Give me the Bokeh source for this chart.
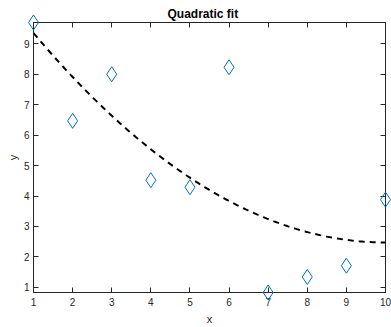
import numpy as np
from bokeh.plotting import figure
from bokeh.models import LinearAxis, Range1d, FixedTicker, ColumnDataSource, Title
from bokeh.embed import file_html
from bokeh.resources import INLINE

x_vals = [1, 2, 3, 4, 5, 6, 7, 8, 9, 10]
y_vals = [9.70, 6.47, 8.00, 4.52, 4.29, 8.23, 0.83, 1.34, 1.71, 3.88]
x_ticks = [1, 2, 3, 4, 5, 6, 7, 8, 9, 10]
y_ticks = [1, 2, 3, 4, 5, 6, 7, 8, 9]

coef = np.polyfit(x_vals, y_vals, 2)
xf = np.linspace(min(x_vals), max(x_vals), 200)
yf = np.polyval(coef, xf)

FONT = "Liberation Sans"
AX = "#262626"

p = figure(width=391, height=327, output_backend="svg", toolbar_location=None,
           x_range=Range1d(min(x_vals), max(x_vals)),
           y_range=Range1d(min(y_vals), max(y_vals)),
           min_border_left=33, min_border_right=6, min_border_top=22, min_border_bottom=31)
p.background_fill_color = "white"
p.border_fill_color = "white"
p.outline_line_color = AX
p.outline_line_width = 1
p.grid.visible = False

p.title = Title(text="Quadratic fit", align="left", offset=134,
                text_font=FONT, text_font_size="12px", text_font_style="bold",
                text_color="black", standoff=4)

for ax in (p.xaxis[0], p.yaxis[0]):
    ax.major_tick_in = 5
    ax.major_tick_out = 0
    ax.minor_tick_line_color = None
    ax.axis_line_color = AX
    ax.major_tick_line_color = AX
    ax.major_label_text_color = AX
    ax.major_label_text_font = FONT
    ax.major_label_text_font_size = "10px"
    ax.axis_label_text_font = FONT
    ax.axis_label_text_font_size = "11px"
    ax.axis_label_text_font_style = "normal"
    ax.axis_label_text_color = AX

p.xaxis[0].ticker = FixedTicker(ticks=x_ticks)
p.yaxis[0].ticker = FixedTicker(ticks=y_ticks)
p.xaxis[0].axis_label = "x"
p.yaxis[0].axis_label = "y"
p.xaxis[0].major_label_standoff = 5
p.xaxis[0].axis_label_standoff = 4
p.yaxis[0].major_label_standoff = 4
p.yaxis[0].axis_label_standoff = 2

top = LinearAxis(ticker=FixedTicker(ticks=x_ticks))
right = LinearAxis(ticker=FixedTicker(ticks=y_ticks))
for ax in (top, right):
    ax.major_tick_in = 5
    ax.major_tick_out = 0
    ax.minor_tick_line_color = None
    ax.axis_line_color = AX
    ax.major_tick_line_color = AX
    ax.major_label_text_font_size = "0px"
    ax.major_label_text_color = None
    ax.major_label_standoff = 0
p.add_layout(top, "above")
p.add_layout(right, "right")

fit_src = ColumnDataSource(dict(x=xf, y=yf))
p.line("x", "y", source=fit_src, line_color="black", line_width=2, line_dash="6 5")

src = ColumnDataSource(dict(x=x_vals, y=y_vals))
r = p.scatter("x", "y", source=src, marker="diamond", size=15, fill_color=None,
              line_color="#0072BD", line_width=1, level="overlay")

open("out.html", "w").write(file_html(p, INLINE))
